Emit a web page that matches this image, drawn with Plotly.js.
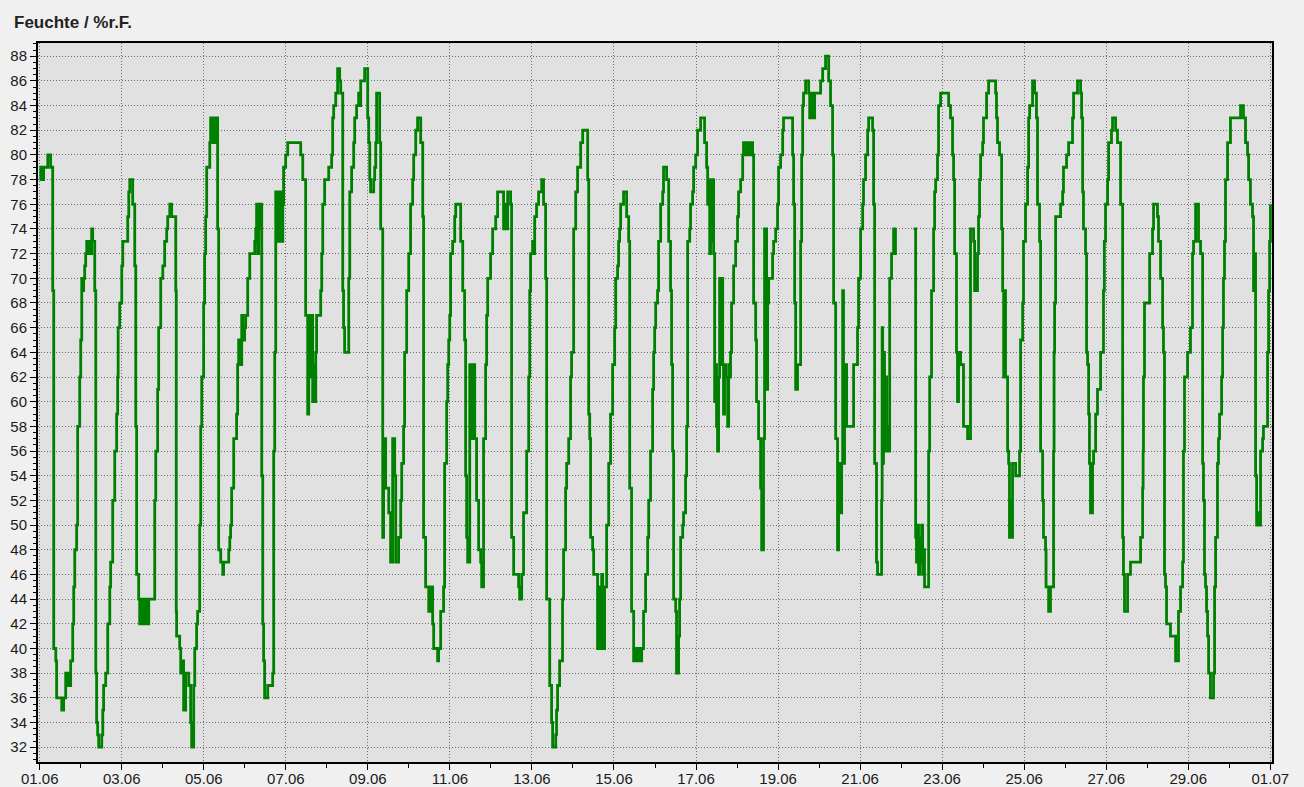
<!DOCTYPE html>
<html>
<head>
<meta charset="utf-8">
<script src="https://cdn.plot.ly/plotly-3.0.1.min.js"></script>
<style>
  html, body { margin: 0; padding: 0; background: #f0f0f0; }
  #chart { width: 1304px; height: 787px; }
</style>
</head>
<body>
<div id="chart"></div>
<script>
// Start of the recording (hour 0 = 01.06 00:00)
const startDate = Date.UTC(2023, 5, 1);
const chartTitle = "Feuchte / %r.F.";
const tickFormat = "%d.%m";

// Relative humidity readings: [hours since 01.06 00:00, %r.F.]; null = logger gap
const week1 = [
  [0,78],[0.6,79],[1.8,78],[2.3,79],[4.7,80],[6.4,79],[7.6,69],[8.2,40],[9.4,39],[9.9,36],
  [12.9,35],[14.0,36],[15.2,38],[16.4,37],[17.0,38],[17.6,37],[18.1,39],[19.3,42],[19.9,45],[20.5,48],
  [21.6,50],[22.2,58],[23.4,62],[24.0,65],[24.6,70],[25.2,69],[25.7,70],[26.3,71],[26.9,72],[27.5,73],
  [28.7,72],[29.3,73],[29.8,72],[30.4,74],[31.0,73],[32.2,69],[32.8,38],[33.3,34],[33.9,33],[34.5,32],
  [36.3,33],[36.9,35],[37.4,37],[38.6,38],[39.8,42],[41.0,45],[41.5,47],[42.7,52],[43.9,56],[45.0,59],
  [45.6,62],[45.9,66],[46.8,68],[48.0,71],[48.6,73],[51.5,75],[52.1,77],[52.7,78],[54.4,76],[55.6,71],
  [56.2,58],[56.7,46],[57.9,44],[58.5,42],[59.7,44],[60.3,42],[61.4,44],[62.0,42],[62.6,44],[63.2,42],
  [63.8,44],[67.3,52],[67.9,56],[69.0,61],[69.6,66],[70.8,70],[72.0,71],[73.1,73],[74.3,74],[74.9,75],
  [76.1,76],[77.2,75],[79.6,69],[79.9,43],[80.1,41],[81.9,40],[82.5,38],[83.1,39],[84.2,35],[85.4,38],
  [87.2,37],[88.3,34],[88.9,32],[90.1,37],[90.7,40],[91.8,42],[92.4,43],[93.6,50],[94.2,58],[94.8,62],
  [95.9,68],[96.5,72],[97.1,75],[97.7,79],[99.5,81],[100.0,83],[101.2,81],[101.8,83],[103.0,81],[103.5,83],
  [104.1,74],[104.7,48],[105.9,47],[107.1,46],[107.6,47],[110.6,48],[111.2,49],[111.7,50],[112.3,53],[113.5,57],
  [115.2,59],[115.8,63],[116.4,65],[117.6,63],[118.2,67],[118.8,65],[119.9,66],[120.5,67],[121.7,70],[122.9,72],
  [125.8,73],[126.4,74],[126.9,76],[127.5,72],[128.1,76],[128.7,74],[129.3,76],[129.9,54],[130.5,42],[131.0,39],
  [131.6,36],[133.4,37],[136.3,38],[136.9,56],[137.5,64],[138.1,77],[138.6,73],[139.2,77],[139.8,73],[140.4,77],
  [141.6,73],[142.2,76],[142.7,79],[143.9,80],[145.1,81],[152.7,80],[153.9,78],[155.6,67],[156.8,59],[157.4,67],
  [158.0,62],[158.5,67],[159.7,60],[160.3,63],[160.9,60],[161.5,64],[162.0,67],[164.4,69],[165.0,72],[165.6,76]
];
const week2 = [
  [166.7,78],[169.1,79],[170.8,80],[171.4,83],[172.0,84],[173.2,85],[174.3,87],[175.5,86],[176.1,85],[177.3,69],
  [177.8,66],[178.4,64],[180.8,70],[181.4,77],[182.5,79],[183.7,81],[184.3,83],[185.4,84],[186.6,85],[187.2,84],
  [187.8,86],[190.1,87],[191.9,83],[192.5,81],[193.1,78],[193.6,77],[195.4,78],[196.0,79],[196.6,81],[197.1,85],
  [198.9,81],[199.5,74],[200.7,49],[201.2,57],[202.4,53],[204.2,51],[205.3,47],[206.5,57],[207.7,54],[208.3,47],
  [210.0,49],[211.2,52],[211.8,55],[212.9,58],[213.5,64],[214.7,69],[215.9,72],[217.0,76],[218.2,78],[218.8,80],
  [220.0,82],[221.1,83],[222.9,81],[224.1,75],[224.6,49],[225.8,45],[227.6,43],[228.7,45],[229.9,42],[230.5,40],
  [232.8,39],[233.4,40],[234.6,43],[236.3,45],[236.9,55],[238.1,60],[238.7,63],[239.3,65],[239.9,67],[240.4,72],
  [241.6,73],[242.8,75],[243.4,76],[246.3,73],[247.5,69],[248.6,65],[249.2,54],[249.8,49],[250.4,47],[251.6,63],
  [252.7,57],[253.9,63],[254.5,57],[255.6,52],[256.8,48],[258.0,47],[258.6,45],[259.7,57],[260.9,63],[261.5,67],
  [262.1,70],[263.8,72],[265.0,74],[266.8,75],[267.9,77],[271.4,74],[272.6,76],[273.2,74],[273.8,77],[275.5,76],
  [276.1,49],[277.3,46],[280.2,45],[280.8,44],[282.0,46],[283.1,51],[284.9,56],[286.1,62],[286.7,69],[287.2,72],
  [288.4,73],[289.0,72],[289.6,75],[290.7,76],[291.9,77],[293.7,78],[294.8,76],[296.0,70],[296.6,44],[298.4,37],
  [299.5,34],[300.1,32],[301.9,33],[302.4,35],[303.0,37],[304.2,39],[305.9,44],[306.5,48],[307.7,53],[308.3,55],
  [309.5,57],[310.6,62],[311.2,64],[312.4,74],[313.6,77],[314.7,79],[316.5,81],[317.7,82],[320.6,78],[321.2,59],
  [321.8,57],[322.3,49],[323.5,48],[324.1,46],[326.4,40],[327.6,45],[328.2,40],[328.8,46],[329.4,40],[330.5,45],
  [331.7,50],[332.9,55],[334.0,59]
];
const week3 = [
  [335.2,63],[336.4,66],[337.0,70],[338.1,71],[338.7,73],[339.3,74],[339.9,76],[341.6,77],[343.4,75],[344.6,73],
  [345.2,53],[346.3,43],[347.5,39],[348.7,40],[349.2,39],[350.4,40],[351.6,39],[352.2,40],[353.3,43],[354.5,46],
  [355.7,49],[356.3,52],[357.4,56],[358.6,61],[359.2,64],[359.8,66],[360.4,68],[361.5,69],[362.1,73],[363.3,76],
  [364.5,77],[365.0,79],[366.8,78],[368.0,73],[369.1,69],[369.7,63],[370.3,56],[370.9,44],[372.1,43],[372.6,38],
  [373.8,41],[374.4,44],[375.0,49],[376.2,50],[376.7,51],[377.9,54],[378.5,58],[379.1,73],[380.3,74],[380.8,76],
  [382.0,77],[382.6,79],[383.8,80],[384.9,82],[386.7,83],[389.0,81],[390.2,79],[390.8,76],[391.4,78],[392.0,72],
  [392.5,78],[393.1,73],[393.7,78],[394.3,72],[394.9,60],[395.5,63],[396.0,58],[396.6,56],[397.2,62],[397.8,70],
  [398.4,63],[399.0,70],[399.6,63],[400.1,59],[400.7,63],[401.3,62],[402.5,58],[403.1,63],[403.7,62],[404.2,64],
  [404.8,68],[406.0,71],[407.2,73],[408.3,75],[408.9,77],[410.1,78],[411.3,80],[411.8,81],[413.0,80],[413.6,81],
  [415.0,80],[415.6,81],[417.1,80],[417.7,68],[418.9,65],[419.4,60],[420.6,57],[421.8,53],[422.4,48],[423.5,57],
  [424.1,74],[425.3,61],[425.9,68],[426.5,70],[428.8,72],[429.4,73],[430.6,74],[431.7,76],[432.3,79],[433.5,80],
  [434.7,82],[435.2,83],[440.5,80],[441.1,76],[441.7,68],[442.3,61],[443.4,63],[445.2,73],[445.8,80],[446.4,84],
  [446.9,85],[448.1,86],[449.9,85],[450.5,83],[451.1,85],[451.7,83],[452.2,85],[452.8,83],[453.4,85],[456.9,86],
  [458.1,87],[459.8,88],[461.6,86],[462.7,84],[463.9,80],[464.5,68],[465.7,57],[466.8,48],[467.4,51],[468.0,55],
  [468.6,51],[469.2,55],[469.8,69],[470.3,55],[470.9,58],[471.5,63],[472.1,58],[476.2,63],[478.5,66],[479.1,70],
  [480.3,74],[481.5,76],[482.0,78],[483.2,80],[484.4,82],[485.0,83],[487.3,82],[487.9,76],[488.5,55],[489.6,47],
  [490.2,46],[492.6,52],[492.9,66],[493.2,55],[493.7,64],[494.3,56],[494.9,62],[495.5,58],[496.1,56],[497.3,70],
  [498.4,72],[499.6,74],[500.1,72],[500.7,74],[501.3,74],[505.0,null]
];
const week4 = [
  [511.3,74],[512.5,49],[513.0,47],[513.6,50],[514.2,46],[514.8,49],[515.4,47],[516.0,50],[516.6,46],[517.1,48],
  [517.7,45],[520.1,56],[520.7,62],[521.8,69],[523.0,74],[523.6,77],[524.2,78],[525.3,80],[525.9,84],[527.1,85],
  [531.8,84],[532.9,83],[534.1,80],[534.7,78],[535.3,72],[536.4,64],[537.0,60],[537.6,64],[538.8,63],[540.5,58],
  [542.9,57],[544.6,74],[546.4,73],[547.0,69],[547.6,70],[548.1,69],[548.7,72],[549.3,75],[549.9,78],[550.5,80],
  [551.7,81],[552.2,83],[554.0,85],[555.2,86],[559.3,85],[559.8,83],[560.4,81],[561.6,80],[562.8,74],[563.4,69],
  [564.0,62],[564.5,69],[565.1,62],[566.3,56],[566.9,55],[567.4,49],[568.0,52],[568.6,49],[569.2,55],[571.0,54],
  [573.3,56],[573.9,65],[575.1,68],[575.6,73],[576.8,76],[578.0,79],[578.6,83],[579.2,84],[580.9,86],[582.1,85],
  [583.2,83],[583.8,76],[585.0,73],[585.6,56],[586.8,52],[587.3,49],[588.5,48],[588.8,45],[590.3,43],[591.4,45],
  [593.2,56],[593.5,64],[593.8,68],[594.4,75],[597.3,76],[598.5,77],[599.0,79],[600.8,80],[602.0,81],[604.3,83],
  [604.9,85],[607.2,86],[609.0,85],[609.6,83],[610.2,77],[610.7,74],[611.9,72],[612.5,64],[613.1,63],[613.7,59],
  [614.2,55],[614.8,51],[616.0,55],[616.6,56],[617.8,59],[618.9,61],[620.7,64],[622.4,69],[622.9,73],[623.6,76],
  [624.8,78],[625.4,81],[627.1,82],[627.7,83],[629.5,82],[630.6,81],[632.4,76],[633.6,49],[634.1,46],[634.7,43],
  [636.5,46],[638.2,47],[644.1,49],[645.3,53],[645.6,56],[645.8,62],[646.4,68],[649.4,72],[651.1,74],[651.7,76],
  [654.0,75],[654.6,73],[655.8,70],[657.0,66],[657.5,64],[658.1,46],[658.7,45],[659.3,42],[661.6,41],[664.6,39],
  [666.3,43],[667.5,45],[668.7,47],[669.2,56],[669.8,62],[671.6,64],[673.3,66],[674.5,72],[675.1,73],[676.3,76],
  [678.0,73],[679.2,72],[680.4,55],[680.9,52],[681.5,46],[682.1,45],[682.7,43],[683.3,41],[683.9,38],[685.0,36],
  [686.8,38],[687.4,45],[688.0,49],[689.1,55],[689.7,57],[690.3,59],[691.5,62],[692.1,66],[692.6,70],[693.2,73],
  [693.8,78],[695.0,81],[696.7,83],[702.6,84],[704.3,83],[705.5,81],[706.7,80],[707.3,78],[708.4,76],[709.6,75],
  [710.2,69],[710.8,72],[711.4,54],[712.0,50],[712.5,51],[713.1,50],[714.3,56],[715.5,57],[716.0,58],[718.4,64],
  [719.0,69],[719.6,73],[720.1,76]
];

const yTicks = [32,34,36,38,40,42,44,46,48,50,52,54,56,58,60,62,64,66,68,70,72,74,76,78,80,82,84,86,88];

function hourToDate(h) {
  const d = new Date(startDate + h * 3600000);
  return d.toISOString().slice(0, 19).replace('T', ' ');
}

const readings = week1.concat(week2, week3, week4);
const xs = readings.map(r => hourToDate(r[0]));
const ys = readings.map(r => r[1]);

const trace = {
  type: 'scatter',
  mode: 'lines',
  x: xs,
  y: ys,
  line: { color: '#008000', width: 2.8, shape: 'hv' },
  connectgaps: false,
  hoverinfo: 'x+y'
};

const tickFont = { family: 'Liberation Sans, Arial, sans-serif', size: 15, color: '#1a1a1a' };
const gridDash = '1px,2px';
const gridColor = '#6e6e6e';

const layout = {
  width: 1304,
  height: 787,
  paper_bgcolor: '#f0f0f0',
  plot_bgcolor: '#e1e1e1',
  margin: { l: 38, r: 32, t: 43, b: 25 },
  showlegend: false,
  title: {
    text: '<b>' + chartTitle + '</b>',
    font: { family: 'Liberation Sans, Arial, sans-serif', size: 17, color: '#222' },
    xref: 'container', yref: 'container',
    x: 14 / 1304, xanchor: 'left',
    y: 1 - 22 / 787, yanchor: 'middle'
  },
  xaxis: {
    type: 'date',
    range: [hourToDate(-1), hourToDate(721)],
    tick0: hourToDate(0),
    dtick: 2 * 86400000,
    tickformat: tickFormat,
    ticks: 'outside',
    ticklen: 6,
    tickcolor: '#000',
    tickwidth: 1,
    tickfont: tickFont,
    ticklabelstandoff: -4,
    showgrid: true,
    gridcolor: gridColor,
    gridwidth: 1,
    griddash: gridDash,
    showline: true,
    linecolor: '#000',
    linewidth: 2,
    mirror: true,
    zeroline: false,
    minor: { dtick: 86400000, ticks: 'outside', ticklen: 4, tickcolor: '#000', showgrid: false }
  },
  yaxis: {
    range: [30.8, 89.07],
    tickvals: yTicks,
    ticktext: yTicks.map(String),
    ticks: 'outside',
    ticklen: 6,
    tickcolor: '#000',
    tickwidth: 1,
    tickfont: tickFont,
    showgrid: true,
    gridcolor: gridColor,
    gridwidth: 1,
    griddash: gridDash,
    showline: true,
    linecolor: '#000',
    linewidth: 2,
    mirror: true,
    zeroline: false,
    minor: { dtick: 0.5, tick0: 0, ticks: 'outside', ticklen: 3, tickcolor: '#000', showgrid: false }
  }
};

Plotly.newPlot('chart', [trace], layout, { displayModeBar: false, staticPlot: true });
</script>
</body>
</html>
